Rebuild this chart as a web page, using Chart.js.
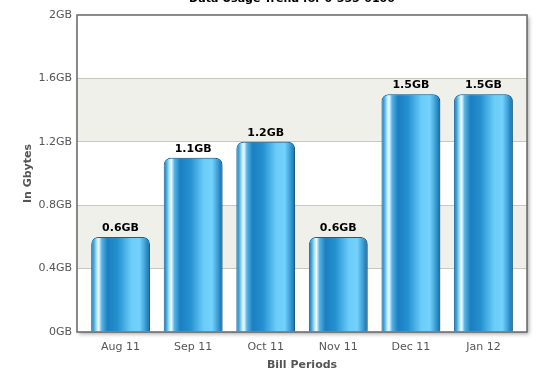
<!DOCTYPE html>
<html>
<head>
<meta charset="utf-8">
<script src="https://cdn.jsdelivr.net/npm/chart.js@4"></script>
<style>
  html, body { margin: 0; padding: 0; background: #fff; }
  #wrap { width: 540px; height: 370px; position: relative; }
</style>
</head>
<body>
<div id="wrap"><canvas id="usageChart"></canvas></div>
<script>
// data
const chartTitle = 'Data Usage Trend for 0-555-0100';
const billPeriods = ['Aug 11', 'Sep 11', 'Oct 11', 'Nov 11', 'Dec 11', 'Jan 12'];
const usageGb = [0.6, 1.1, 1.2, 0.6, 1.5, 1.5];
const usageLabels = ['0.6GB', '1.1GB', '1.2GB', '0.6GB', '1.5GB', '1.5GB'];
const yTicks = [0, 0.4, 0.8, 1.2, 1.6, 2];
const yTickLabels = ['0GB', '0.4GB', '0.8GB', '1.2GB', '1.6GB', '2GB'];

const FONT = 'DejaVu Sans, Verdana, sans-serif';
const BAR_PCT = 0.81;
const X_MIN = -0.6, X_MAX = 5.6;

// cylinder look, built per bar from its pixel span
function barGradient(context) {
  const chart = context.chart;
  const x = chart.scales.x;
  if (!x || context.dataIndex === undefined) return '#1e86c6';
  const cx = x.getPixelForValue(context.dataIndex);
  const w = (x.getPixelForValue(1) - x.getPixelForValue(0)) * BAR_PCT;
  if (!isFinite(cx) || !isFinite(w) || w <= 0) return '#1e86c6';
  const g = chart.ctx.createLinearGradient(cx - w / 2, 0, cx + w / 2, 0);
  g.addColorStop(0.00, '#176fa8');
  g.addColorStop(0.05, '#4eaee0');
  g.addColorStop(0.10, '#bfeaff');
  g.addColorStop(0.13, '#eefaff');
  g.addColorStop(0.18, '#55b4e6');
  g.addColorStop(0.28, '#1b7fc0');
  g.addColorStop(0.45, '#2490d0');
  g.addColorStop(0.68, '#6acdf8');
  g.addColorStop(0.82, '#74d2fc');
  g.addColorStop(0.92, '#3a9ed6');
  g.addColorStop(1.00, '#156aa3');
  return g;
}

// alternating bands + shadowed plot frame
const plotFrame = {
  id: 'plotFrame',
  beforeDraw(chart) {
    const { ctx, chartArea: a, scales: { y } } = chart;
    ctx.save();
    ctx.shadowColor = 'rgba(0,0,0,0.35)';
    ctx.shadowBlur = 4;
    ctx.shadowOffsetX = 2;
    ctx.shadowOffsetY = 2;
    ctx.fillStyle = '#ffffff';
    ctx.fillRect(a.left, a.top, a.right - a.left, a.bottom - a.top);
    ctx.restore();
    ctx.save();
    ctx.fillStyle = '#f0f0ea';
    for (let i = 1; i < yTicks.length - 1; i += 2) {
      const top = y.getPixelForValue(yTicks[i + 1]);
      const bot = y.getPixelForValue(yTicks[i]);
      ctx.fillRect(a.left, top, a.right - a.left, bot - top);
    }
    // cut-off chart caption at the very top
    ctx.font = 'bold 11px ' + FONT;
    ctx.fillStyle = '#000';
    ctx.textAlign = 'center';
    ctx.textBaseline = 'alphabetic';
    ctx.fillText(chartTitle, 292, 1.5);
    ctx.restore();
  },
  beforeDatasetsDraw(chart) {
    chart.ctx.save();
    chart.ctx.shadowColor = 'rgba(0,0,0,0.3)';
    chart.ctx.shadowBlur = 3;
    chart.ctx.shadowOffsetX = 2;
    chart.ctx.shadowOffsetY = 0;
  },
  afterDatasetsDraw(chart) {
    const ctx = chart.ctx;
    ctx.restore();
    ctx.save();
    ctx.font = 'bold 11px ' + FONT;
    ctx.fillStyle = '#000';
    ctx.textAlign = 'center';
    ctx.textBaseline = 'alphabetic';
    chart.getDatasetMeta(0).data.forEach((bar, i) => {
      ctx.fillText(usageLabels[i], bar.x, bar.y - 6);
    });
    const a = chart.chartArea;
    ctx.strokeStyle = '#666666';
    ctx.lineWidth = 1.5;
    ctx.strokeRect(a.left, a.top, a.right - a.left, a.bottom - a.top);
    ctx.restore();
  }
};

new Chart(document.getElementById('usageChart'), {
  type: 'bar',
  data: {
    datasets: [{
      data: usageGb.map((v, i) => ({ x: i, y: v })),
      backgroundColor: barGradient,
      borderColor: '#1a6da3',
      borderWidth: { top: 1, left: 1, right: 1, bottom: 0 },
      borderRadius: { topLeft: 7, topRight: 7, bottomLeft: 0, bottomRight: 0 },
      borderSkipped: 'bottom',
      categoryPercentage: BAR_PCT,
      barPercentage: 1
    }]
  },
  options: {
    responsive: true,
    maintainAspectRatio: false,
    animation: false,
    layout: { padding: { top: 15, right: 13, left: 0, bottom: 0 } },
    plugins: {
      legend: { display: false },
      tooltip: { enabled: false }
    },
    scales: {
      x: {
        type: 'linear',
        min: X_MIN,
        max: X_MAX,
        offset: false,
        afterBuildTicks: (s) => { s.ticks = billPeriods.map((_, i) => ({ value: i })); },
        grid: { display: false, drawTicks: false, offset: false },
        border: { display: false },
        ticks: {
          color: '#555',
          font: { family: FONT, size: 11 },
          padding: 9,
          maxRotation: 0,
          autoSkip: false,
          callback: (v) => billPeriods[v]
        },
        title: {
          display: true,
          text: 'Bill Periods',
          color: '#555',
          font: { family: FONT, size: 11, weight: 'bold' },
          padding: { top: -2, bottom: -2 }
        },
        afterFit: (s) => { s.height = 38; }
      },
      y: {
        min: 0,
        max: 2,
        afterBuildTicks: (s) => { s.ticks = yTicks.map(v => ({ value: v })); },
        grid: {
          drawTicks: false,
          color: (c) => (c.tick && (c.tick.value === 0 || c.tick.value === 2)) ? 'rgba(0,0,0,0)' : '#c8c8c0',
          lineWidth: 1
        },
        border: { display: false },
        ticks: {
          color: '#555',
          font: { family: FONT, size: 11 },
          padding: 5,
          callback: (v) => yTickLabels[yTicks.indexOf(v)]
        },
        title: {
          display: true,
          text: 'In Gbytes',
          color: '#555',
          font: { family: FONT, size: 11, weight: 'bold' },
          padding: { top: 22, bottom: 0 }
        },
        afterFit: (s) => { s.width = 77; }
      }
    }
  },
  plugins: [plotFrame]
});
</script>
</body>
</html>
